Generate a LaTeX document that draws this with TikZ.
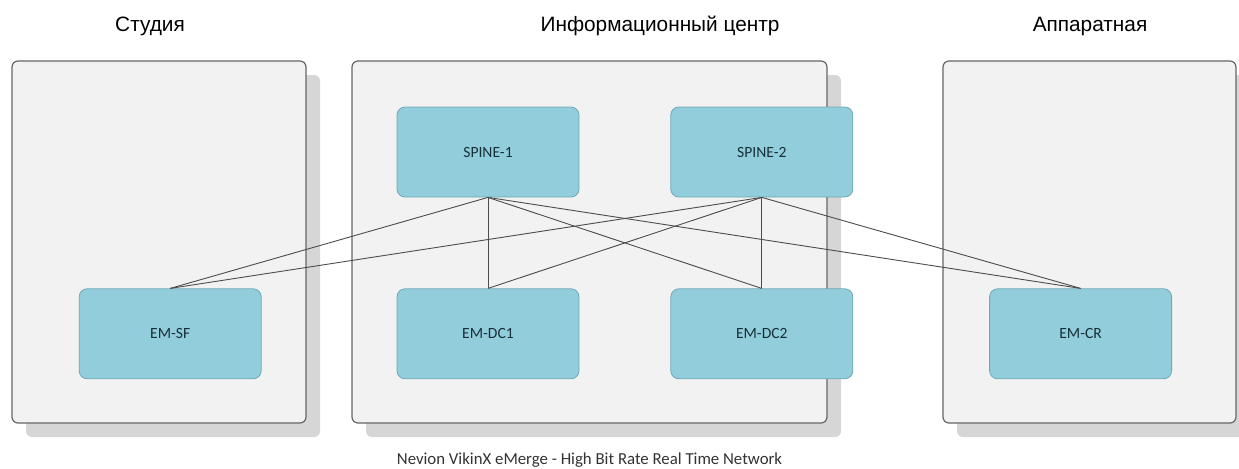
\documentclass[tikz,border=0pt]{standalone}
\usepackage{fontspec}
\setmainfont{Liberation Sans}
\newfontfamily\labelfont{Carlito}
\usetikzlibrary{positioning, shadows}
\definecolor{panelgray}{HTML}{F2F2F2}
\definecolor{shadowgray}{HTML}{D6D6D6}
\definecolor{boxblue}{HTML}{92CDDC}
\definecolor{boxedge}{HTML}{6FA8B8}
\definecolor{boxtext}{HTML}{173038}
\tikzset{font={\fontsize{10.4}{12}\selectfont}}
\tikzset{
	panel/.style={rectangle, rounded corners=3pt, draw=black!60, line width=0.6pt, fill=panelgray,
		drop shadow={shadow xshift=7pt, shadow yshift=-7pt, fill=shadowgray, opacity=1},
		minimum height=181pt, inner sep=0pt},
	switch/.style={rectangle, rounded corners=4pt, draw=boxedge, line width=0.4pt, fill=boxblue,
		minimum width=91pt, minimum height=45pt, inner sep=0pt,
		font={\labelfont\fontsize{7.8}{9}\selectfont}, text=boxtext},
	link/.style={draw=black!70, line width=0.45pt}
}

\begin{document}
\begin{tikzpicture}[x=0.5pt, y=-0.5pt]

	\useasboundingbox (0,0) rectangle (1239,468);

	\node (studio_room) [panel, minimum width=147pt] at (159,242) {};

	\node (info_room) [panel, minimum width=237.5pt] at (589.5,242) {};

	\node (control_room) [panel, minimum width=146.5pt] at (1089.5,242) {};

	\node (studio_title) at (150,26) {Студия};

	\node (info_title) at (660,26) {Информационный центр};

	\node (control_title) at (1090,26) {Аппаратная};

	\node (caption) [font={\labelfont\fontsize{8.4}{10}\selectfont}, text=black!80] at (589.5,460)
	{Nevion VikinX eMerge - High Bit Rate Real Time Network};

	% spine layer
	\node (spine_1) [switch] at (488,152) {SPINE-1};

	\node (spine_2) [switch, right=45.5pt of spine_1] {SPINE-2};

	% leaf layer
	\node (em_dc1) [switch, below=45.5pt of spine_1] {EM-DC1};

	\node (em_dc2) [switch, below=45.5pt of spine_2] {EM-DC2};

	\node (em_sf) [switch, left=67.5pt of em_dc1] {EM-SF};

	\node (em_cr) [switch, right=68pt of em_dc2] {EM-CR};

	\foreach \spine in {spine_1, spine_2}
		\foreach \leaf in {em_sf, em_dc1, em_dc2, em_cr}
			\draw [link] (\spine.south) -- (\leaf.north);

\end{tikzpicture}
\end{document}
